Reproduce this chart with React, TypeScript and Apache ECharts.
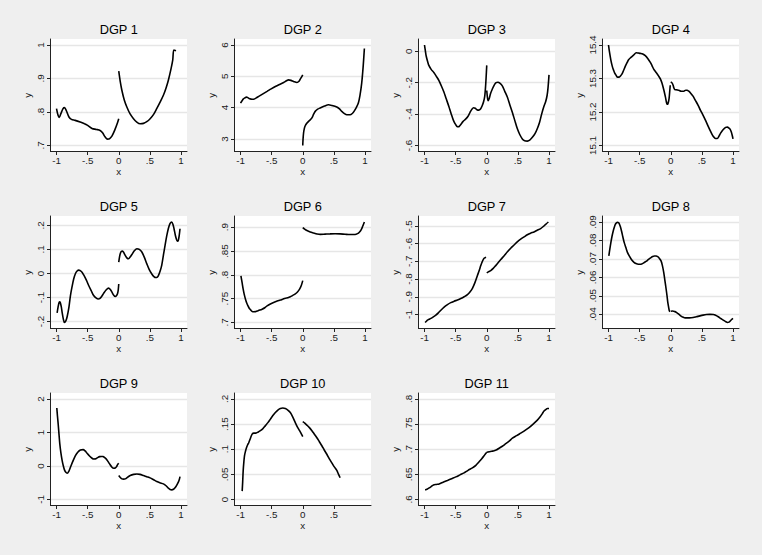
import React, { useEffect, useRef } from "react";
import * as echarts from "echarts";

type Pt = [number, number];

const X_TICKS = [-1, -0.5, 0, 0.5, 1];
const X_TICKS_10 = [-1, -0.5, 0, 0.5];
const X_RANGE = [-1, 1];

const DGP1_YTICKS = [0.7, 0.8, 0.9, 1];
const DGP2_YTICKS = [3, 4, 5, 6];
const DGP3_YTICKS = [-0.6, -0.4, -0.2, 0];
const DGP4_YTICKS = [15.1, 15.2, 15.3, 15.4];
const DGP5_YTICKS = [-0.2, -0.1, 0, 0.1, 0.2];
const DGP6_YTICKS = [0.7, 0.75, 0.8, 0.85, 0.9];
const DGP7_YTICKS = [-1, -0.9, -0.8, -0.7, -0.6, -0.5];
const DGP8_YTICKS = [0.04, 0.05, 0.06, 0.07, 0.08, 0.09];
const DGP9_YTICKS = [-1, 0, 1, 2];
const DGP10_YTICKS = [0, 0.05, 0.1, 0.15, 0.2];
const DGP11_YTICKS = [0.6, 0.65, 0.7, 0.75, 0.8];

const DGP1_LEFT: Pt[] = [[-1,0.81],[-0.975,0.79],[-0.955,0.784],[-0.93,0.795],[-0.895,0.81],[-0.872,0.813],[-0.84,0.803],[-0.8,0.785],[-0.76,0.778],[-0.7,0.775],[-0.62,0.77],[-0.55,0.765],[-0.5,0.76],[-0.43,0.751],[-0.36,0.748],[-0.3,0.745],[-0.26,0.738],[-0.22,0.726],[-0.18,0.719],[-0.15,0.72],[-0.11,0.728],[-0.06,0.748],[-0.02,0.768],[0,0.78]];
const DGP1_RIGHT: Pt[] = [[0,0.922],[0.025,0.89],[0.05,0.865],[0.09,0.835],[0.13,0.815],[0.18,0.795],[0.237,0.78],[0.29,0.77],[0.344,0.765],[0.397,0.766],[0.45,0.771],[0.504,0.78],[0.56,0.793],[0.61,0.81],[0.66,0.828],[0.717,0.85],[0.76,0.872],[0.797,0.895],[0.835,0.925],[0.867,0.955],[0.885,0.985],[0.92,0.983]];

const DGP2_LEFT: Pt[] = [[-1,4.145],[-0.975,4.22],[-0.957,4.27],[-0.93,4.31],[-0.904,4.336],[-0.875,4.31],[-0.85,4.28],[-0.815,4.265],[-0.787,4.27],[-0.747,4.31],[-0.707,4.36],[-0.64,4.44],[-0.573,4.52],[-0.507,4.6],[-0.44,4.675],[-0.373,4.74],[-0.307,4.8],[-0.26,4.86],[-0.227,4.887],[-0.19,4.87],[-0.147,4.835],[-0.093,4.8],[-0.06,4.84],[-0.04,4.91],[-0.015,4.99],[0,5.045]];
const DGP2_RIGHT: Pt[] = [[0,2.79],[0.005,3.0],[0.013,3.19],[0.025,3.33],[0.04,3.42],[0.065,3.5],[0.093,3.56],[0.12,3.61],[0.147,3.67],[0.175,3.79],[0.2,3.88],[0.24,3.95],[0.28,3.99],[0.35,4.05],[0.413,4.09],[0.467,4.07],[0.547,4.02],[0.59,3.96],[0.627,3.88],[0.67,3.81],[0.707,3.77],[0.76,3.77],[0.8,3.82],[0.824,3.88],[0.86,4.0],[0.893,4.145],[0.92,4.4],[0.947,4.78],[0.97,5.3],[0.99,5.89]];

const DGP3_LEFT: Pt[] = [[-1,0.04],[-0.985,0.0],[-0.973,-0.03],[-0.95,-0.065],[-0.93,-0.09],[-0.893,-0.115],[-0.85,-0.135],[-0.812,-0.158],[-0.77,-0.185],[-0.732,-0.218],[-0.69,-0.258],[-0.651,-0.303],[-0.61,-0.35],[-0.571,-0.399],[-0.54,-0.435],[-0.51,-0.46],[-0.48,-0.478],[-0.455,-0.481],[-0.437,-0.476],[-0.41,-0.463],[-0.383,-0.448],[-0.34,-0.432],[-0.303,-0.415],[-0.27,-0.39],[-0.24,-0.37],[-0.212,-0.36],[-0.185,-0.363],[-0.158,-0.372],[-0.13,-0.375],[-0.1,-0.368],[-0.072,-0.345],[-0.05,-0.32],[-0.032,-0.285],[-0.02,-0.23],[-0.01,-0.165],[0,-0.09]];
const DGP3_RIGHT: Pt[] = [[0,-0.25],[0.01,-0.29],[0.022,-0.314],[0.04,-0.3],[0.06,-0.27],[0.09,-0.24],[0.12,-0.215],[0.15,-0.2],[0.18,-0.197],[0.21,-0.203],[0.25,-0.22],[0.29,-0.255],[0.332,-0.293],[0.37,-0.34],[0.412,-0.39],[0.45,-0.44],[0.492,-0.494],[0.53,-0.53],[0.572,-0.558],[0.61,-0.57],[0.652,-0.572],[0.69,-0.566],[0.733,-0.548],[0.775,-0.525],[0.813,-0.492],[0.85,-0.45],[0.882,-0.4],[0.915,-0.355],[0.947,-0.32],[0.97,-0.28],[0.985,-0.23],[1.0,-0.15]];

const DGP4_LEFT: Pt[] = [[-1,15.4],[-0.985,15.38],[-0.962,15.355],[-0.94,15.337],[-0.919,15.325],[-0.9,15.316],[-0.876,15.309],[-0.855,15.304],[-0.833,15.304],[-0.81,15.307],[-0.785,15.313],[-0.76,15.323],[-0.731,15.336],[-0.7,15.348],[-0.677,15.356],[-0.64,15.363],[-0.597,15.37],[-0.554,15.377],[-0.52,15.376],[-0.489,15.375],[-0.45,15.373],[-0.409,15.368],[-0.37,15.36],[-0.328,15.348],[-0.3,15.338],[-0.274,15.328],[-0.235,15.318],[-0.194,15.307],[-0.165,15.298],[-0.14,15.286],[-0.11,15.265],[-0.086,15.245],[-0.07,15.23],[-0.059,15.223],[-0.045,15.225],[-0.027,15.24],[-0.015,15.265],[-0.008,15.28]];
const DGP4_RIGHT: Pt[] = [[0,15.29],[0.02,15.287],[0.038,15.28],[0.05,15.272],[0.065,15.267],[0.1,15.266],[0.129,15.265],[0.17,15.262],[0.21,15.262],[0.24,15.265],[0.263,15.265],[0.29,15.262],[0.317,15.257],[0.355,15.248],[0.398,15.234],[0.44,15.22],[0.478,15.205],[0.52,15.19],[0.559,15.175],[0.6,15.158],[0.64,15.142],[0.67,15.131],[0.694,15.125],[0.72,15.121],[0.747,15.121],[0.775,15.128],[0.801,15.137],[0.84,15.147],[0.882,15.154],[0.91,15.155],[0.935,15.152],[0.955,15.148],[0.973,15.14],[0.988,15.13],[1.0,15.12]];

const DGP5_LEFT: Pt[] = [[-0.99,-0.164],[-0.975,-0.14],[-0.957,-0.12],[-0.945,-0.118],[-0.936,-0.124],[-0.922,-0.14],[-0.909,-0.163],[-0.89,-0.19],[-0.872,-0.204],[-0.85,-0.197],[-0.829,-0.18],[-0.8,-0.14],[-0.776,-0.092],[-0.75,-0.055],[-0.723,-0.022],[-0.695,0.0],[-0.669,0.01],[-0.643,0.014],[-0.6,0.008],[-0.563,-0.006],[-0.52,-0.028],[-0.483,-0.05],[-0.44,-0.073],[-0.403,-0.092],[-0.36,-0.103],[-0.33,-0.106],[-0.307,-0.105],[-0.275,-0.096],[-0.243,-0.083],[-0.2,-0.068],[-0.163,-0.061],[-0.135,-0.067],[-0.109,-0.078],[-0.08,-0.091],[-0.056,-0.096],[-0.035,-0.092],[-0.019,-0.083],[-0.008,-0.068],[0,-0.044]];
const DGP5_RIGHT: Pt[] = [[0,0.047],[0.01,0.065],[0.024,0.082],[0.04,0.091],[0.061,0.093],[0.08,0.087],[0.104,0.075],[0.13,0.065],[0.157,0.061],[0.185,0.069],[0.211,0.079],[0.25,0.094],[0.291,0.103],[0.33,0.1],[0.371,0.089],[0.41,0.068],[0.451,0.04],[0.49,0.016],[0.531,-0.002],[0.565,-0.013],[0.595,-0.017],[0.62,-0.015],[0.637,-0.009],[0.665,0.01],[0.691,0.035],[0.72,0.08],[0.744,0.117],[0.77,0.155],[0.797,0.187],[0.825,0.208],[0.851,0.214],[0.87,0.205],[0.888,0.186],[0.91,0.158],[0.931,0.139],[0.945,0.134],[0.957,0.138],[0.97,0.155],[0.984,0.186]];

const DGP6_LEFT: Pt[] = [[-0.993,0.798],[-0.975,0.784],[-0.957,0.77],[-0.94,0.759],[-0.92,0.749],[-0.9,0.741],[-0.88,0.735],[-0.86,0.73],[-0.84,0.727],[-0.815,0.7235],[-0.787,0.7225],[-0.76,0.7228],[-0.733,0.724],[-0.69,0.726],[-0.653,0.728],[-0.61,0.731],[-0.573,0.735],[-0.52,0.739],[-0.467,0.742],[-0.41,0.745],[-0.36,0.747],[-0.32,0.749],[-0.28,0.751],[-0.24,0.752],[-0.2,0.754],[-0.16,0.757],[-0.12,0.76],[-0.085,0.764],[-0.051,0.77],[-0.025,0.777],[0,0.788]];
const DGP6_RIGHT: Pt[] = [[0,0.899],[0.03,0.896],[0.067,0.893],[0.12,0.89],[0.173,0.888],[0.23,0.886],[0.28,0.885],[0.36,0.8855],[0.44,0.886],[0.52,0.8862],[0.6,0.886],[0.68,0.8852],[0.76,0.8846],[0.84,0.8846],[0.88,0.8865],[0.909,0.8895],[0.94,0.895],[0.963,0.902],[0.99,0.911]];

const DGP7_LEFT: Pt[] = [[-0.99,-1.045],[-0.97,-1.038],[-0.952,-1.032],[-0.925,-1.027],[-0.898,-1.022],[-0.858,-1.013],[-0.818,-1.004],[-0.778,-0.991],[-0.738,-0.976],[-0.685,-0.958],[-0.631,-0.944],[-0.578,-0.933],[-0.524,-0.925],[-0.47,-0.918],[-0.417,-0.91],[-0.363,-0.9],[-0.31,-0.888],[-0.27,-0.873],[-0.23,-0.852],[-0.19,-0.82],[-0.15,-0.78],[-0.12,-0.75],[-0.096,-0.724],[-0.07,-0.7],[-0.043,-0.683],[-0.011,-0.677]];
const DGP7_RIGHT: Pt[] = [[0,-0.765],[0.032,-0.758],[0.064,-0.752],[0.104,-0.74],[0.144,-0.724],[0.185,-0.707],[0.225,-0.69],[0.28,-0.668],[0.332,-0.646],[0.385,-0.626],[0.439,-0.608],[0.49,-0.59],[0.545,-0.575],[0.6,-0.562],[0.652,-0.55],[0.705,-0.541],[0.759,-0.534],[0.81,-0.525],[0.866,-0.515],[0.91,-0.503],[0.947,-0.491],[0.99,-0.478]];

const DGP8_LEFT: Pt[] = [[-0.995,0.0716],[-0.98,0.075],[-0.962,0.0788],[-0.945,0.082],[-0.925,0.085],[-0.908,0.087],[-0.892,0.0886],[-0.873,0.0895],[-0.855,0.0898],[-0.84,0.0896],[-0.828,0.0891],[-0.81,0.0875],[-0.79,0.085],[-0.77,0.082],[-0.747,0.0788],[-0.72,0.076],[-0.694,0.0734],[-0.66,0.0712],[-0.629,0.0695],[-0.595,0.0683],[-0.559,0.0675],[-0.52,0.0671],[-0.478,0.0671],[-0.44,0.0677],[-0.398,0.0686],[-0.357,0.0697],[-0.317,0.0707],[-0.29,0.0713],[-0.263,0.0716],[-0.235,0.0716],[-0.21,0.0712],[-0.185,0.0704],[-0.156,0.0689],[-0.135,0.0665],[-0.113,0.0627],[-0.095,0.0585],[-0.075,0.0538],[-0.06,0.05],[-0.048,0.0466],[-0.035,0.044],[-0.022,0.0418],[-0.01,0.0415]];
const DGP8_RIGHT: Pt[] = [[0,0.0416],[0.03,0.0417],[0.065,0.0414],[0.09,0.041],[0.118,0.0403],[0.15,0.0394],[0.183,0.0386],[0.22,0.0381],[0.253,0.038],[0.3,0.038],[0.36,0.0382],[0.41,0.0386],[0.468,0.0391],[0.52,0.0395],[0.575,0.0398],[0.63,0.0399],[0.683,0.0398],[0.72,0.0394],[0.763,0.0386],[0.8,0.0377],[0.844,0.0368],[0.88,0.036],[0.914,0.0355],[0.935,0.0357],[0.952,0.0362],[0.975,0.037],[1.0,0.0377]];

const DGP9_LEFT: Pt[] = [[-0.995,1.73],[-0.985,1.5],[-0.973,1.255],[-0.96,0.95],[-0.947,0.659],[-0.93,0.4],[-0.909,0.162],[-0.89,0.0],[-0.872,-0.116],[-0.85,-0.19],[-0.829,-0.215],[-0.8,-0.15],[-0.776,-0.036],[-0.74,0.13],[-0.696,0.311],[-0.655,0.42],[-0.616,0.48],[-0.573,0.49],[-0.54,0.45],[-0.509,0.38],[-0.47,0.3],[-0.429,0.232],[-0.4,0.21],[-0.376,0.212],[-0.34,0.25],[-0.307,0.28],[-0.28,0.285],[-0.253,0.28],[-0.22,0.24],[-0.189,0.182],[-0.15,0.07],[-0.109,-0.036],[-0.08,-0.065],[-0.056,-0.06],[-0.035,-0.02],[-0.019,0.043],[0,0.083]];
const DGP9_RIGHT: Pt[] = [[0,-0.285],[0.025,-0.345],[0.051,-0.384],[0.078,-0.392],[0.104,-0.384],[0.145,-0.33],[0.184,-0.285],[0.24,-0.25],[0.291,-0.238],[0.34,-0.25],[0.397,-0.285],[0.45,-0.32],[0.504,-0.354],[0.56,-0.41],[0.611,-0.463],[0.66,-0.5],[0.717,-0.533],[0.76,-0.59],[0.797,-0.662],[0.825,-0.7],[0.851,-0.712],[0.88,-0.695],[0.904,-0.652],[0.93,-0.58],[0.957,-0.483],[0.973,-0.4],[0.984,-0.315]];

const DGP10_LEFT: Pt[] = [[-0.973,0.0167],[-0.965,0.035],[-0.957,0.057],[-0.946,0.075],[-0.936,0.087],[-0.92,0.096],[-0.904,0.103],[-0.885,0.109],[-0.867,0.113],[-0.84,0.122],[-0.813,0.13],[-0.786,0.132],[-0.76,0.132],[-0.72,0.134],[-0.68,0.137],[-0.64,0.141],[-0.6,0.147],[-0.56,0.153],[-0.52,0.16],[-0.48,0.167],[-0.44,0.173],[-0.4,0.178],[-0.36,0.181],[-0.32,0.182],[-0.28,0.181],[-0.24,0.178],[-0.2,0.173],[-0.16,0.164],[-0.12,0.153],[-0.085,0.144],[-0.051,0.137],[-0.025,0.131],[0,0.125]];
const DGP10_RIGHT: Pt[] = [[0,0.155],[0.033,0.152],[0.067,0.148],[0.107,0.143],[0.147,0.137],[0.187,0.13],[0.227,0.123],[0.267,0.115],[0.307,0.107],[0.347,0.098],[0.387,0.09],[0.427,0.081],[0.467,0.073],[0.507,0.065],[0.547,0.058],[0.575,0.05],[0.6,0.0433]];

const DGP11_LEFT: Pt[] = [[-0.99,0.619],[-0.96,0.6205],[-0.925,0.623],[-0.89,0.626],[-0.856,0.629],[-0.81,0.63],[-0.765,0.631],[-0.7,0.6345],[-0.631,0.638],[-0.565,0.6415],[-0.497,0.645],[-0.43,0.649],[-0.364,0.653],[-0.3,0.658],[-0.23,0.663],[-0.175,0.668],[-0.123,0.675],[-0.08,0.681],[-0.043,0.687],[-0.02,0.691],[0,0.694]];
const DGP11_RIGHT: Pt[] = [[0,0.694],[0.037,0.695],[0.08,0.696],[0.118,0.697],[0.16,0.699],[0.198,0.702],[0.25,0.706],[0.305,0.711],[0.36,0.716],[0.412,0.722],[0.48,0.727],[0.545,0.732],[0.61,0.737],[0.679,0.743],[0.745,0.75],[0.813,0.758],[0.855,0.764],[0.893,0.771],[0.92,0.776],[0.947,0.779],[0.975,0.781],[1.0,0.781]];

const TITLES = ["DGP 1", "DGP 2", "DGP 3", "DGP 4", "DGP 5", "DGP 6", "DGP 7", "DGP 8", "DGP 9", "DGP 10", "DGP 11"];
const SEGMENTS: Pt[][][] = [
  [DGP1_LEFT, DGP1_RIGHT], [DGP2_LEFT, DGP2_RIGHT], [DGP3_LEFT, DGP3_RIGHT], [DGP4_LEFT, DGP4_RIGHT],
  [DGP5_LEFT, DGP5_RIGHT], [DGP6_LEFT, DGP6_RIGHT], [DGP7_LEFT, DGP7_RIGHT], [DGP8_LEFT, DGP8_RIGHT],
  [DGP9_LEFT, DGP9_RIGHT], [DGP10_LEFT, DGP10_RIGHT], [DGP11_LEFT, DGP11_RIGHT],
];
const Y_TICKS = [DGP1_YTICKS, DGP2_YTICKS, DGP3_YTICKS, DGP4_YTICKS, DGP5_YTICKS, DGP6_YTICKS, DGP7_YTICKS, DGP8_YTICKS, DGP9_YTICKS, DGP10_YTICKS, DGP11_YTICKS];
const XT = [X_TICKS, X_TICKS, X_TICKS, X_TICKS, X_TICKS, X_TICKS, X_TICKS, X_TICKS, X_TICKS, X_TICKS_10, X_TICKS];

// layout
const COL_LEFT = [50.5, 234.5, 418.5, 602.5];
const ROW_TOP = [39, 216, 393];
const GW = 136.5;
const GH = 112.5;
const PAD = 6;
const FONT = "'Liberation Sans', Arial, Helvetica, sans-serif";
const AXIS_COLOR = "#222";

function fmt(v: number): string {
  const r = Math.round(v * 1e6) / 1e6;
  return String(r).replace(/^(-?)0\./, "$1.");
}

function padRange(lo: number, hi: number, size: number): [number, number] {
  const u = (hi - lo) / (size - 2 * PAD);
  return [lo - PAD * u, hi + PAD * u];
}

function buildOption() {
  const grid: any[] = [];
  const xAxis: any[] = [];
  const yAxis: any[] = [];
  const series: any[] = [];
  const title: any[] = [];
  TITLES.forEach((t, i) => {
    const col = i % 4;
    const row = Math.floor(i / 4);
    const left = COL_LEFT[col];
    const top = ROW_TOP[row];
    grid.push({ left, top, width: GW, height: GH, show: true, backgroundColor: "#ffffff", borderWidth: 0 });
    title.push({
      text: t, left: left + GW / 2, top: top - 16, textAlign: "center", padding: 0,
      textStyle: { fontFamily: FONT, fontSize: 12.8, fontWeight: "normal", color: "#000" },
    });
    const yt = Y_TICKS[i];
    let dMin = Infinity, dMax = -Infinity;
    SEGMENTS[i].forEach((seg) => seg.forEach((p) => { dMin = Math.min(dMin, p[1]); dMax = Math.max(dMax, p[1]); }));
    const [ymin, ymax] = padRange(Math.min(yt[0], dMin), Math.max(yt[yt.length - 1], dMax), GH);
    const [xmin, xmax] = padRange(X_RANGE[0], X_RANGE[1], GW);
    const labelStyle = { fontFamily: FONT, fontSize: 9.8, color: "#1a1a1a" };
    xAxis.push({
      type: "value", gridIndex: i, min: xmin, max: xmax,
      name: "x", nameLocation: "middle", nameGap: 14,
      nameTextStyle: { fontFamily: FONT, fontSize: 9.8, color: "#1a1a1a" },
      axisLine: { show: true, onZero: false, lineStyle: { color: AXIS_COLOR, width: 1 } },
      axisTick: { show: true, length: 3.5, customValues: XT[i], lineStyle: { color: AXIS_COLOR, width: 1 } },
      axisLabel: { ...labelStyle, margin: 4, customValues: XT[i], formatter: (v: number) => fmt(v) },
      splitLine: { show: false },
    });
    yAxis.push({
      type: "value", gridIndex: i, min: ymin, max: ymax,
      name: "y", nameLocation: "middle", nameRotate: 90, nameGap: 18.5,
      nameTextStyle: { fontFamily: FONT, fontSize: 9.8, color: "#1a1a1a" },
      axisLine: { show: true, onZero: false, lineStyle: { color: AXIS_COLOR, width: 1 } },
      axisTick: { show: true, length: 3.5, customValues: yt, lineStyle: { color: AXIS_COLOR, width: 1 } },
      axisLabel: { ...labelStyle, margin: 5, rotate: 90, customValues: yt, formatter: (v: number) => fmt(v) },
      splitLine: { show: true, lineStyle: { color: "#E6E6E6", width: 1.3 } },
    });
    SEGMENTS[i].forEach((seg) => {
      series.push({
        type: "line", xAxisIndex: i, yAxisIndex: i, data: seg,
        showSymbol: false, symbol: "none", smooth: 0.3, silent: true,
        lineStyle: { color: "#000", width: 1.6 },
      });
    });
  });
  return { animation: false, backgroundColor: "#EFEFEF", title, grid, xAxis, yAxis, series };
}

export default function App() {
  const ref = useRef<HTMLDivElement>(null);
  useEffect(() => {
    if (!ref.current) return;
    const chart = echarts.init(ref.current, undefined, { renderer: "svg" });
    chart.setOption(buildOption() as any);
    return () => chart.dispose();
  }, []);
  return (
    <div
      ref={ref}
      style={{ position: "fixed", left: 0, top: 0, width: 762, height: 555, background: "#EFEFEF" }}
    />
  );
}
